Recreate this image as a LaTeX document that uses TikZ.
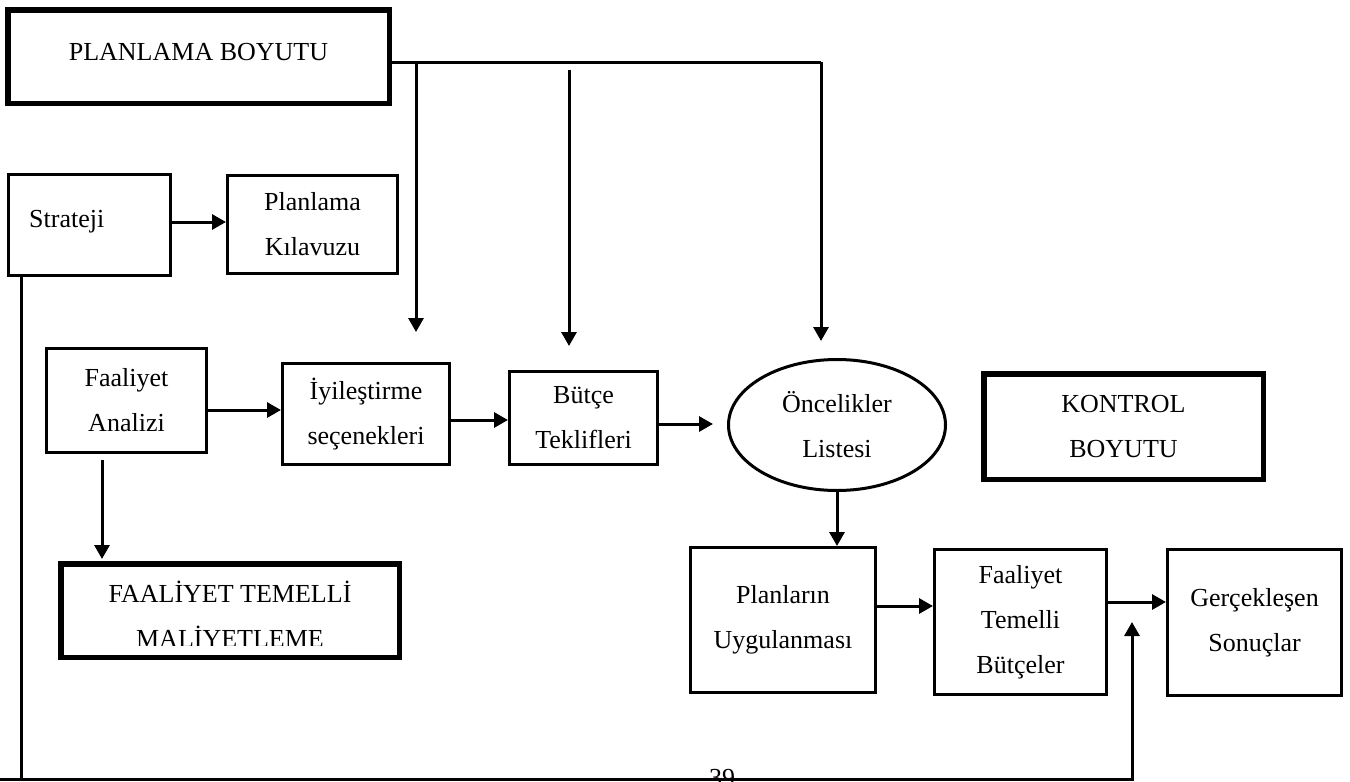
\documentclass[tikz,border=0pt]{standalone}
\usepackage{fontspec}
\setmainfont{Liberation Serif}
\usetikzlibrary{arrows.meta,calc,shapes.geometric}
\begin{document}
\begin{tikzpicture}[x=1pt,y=-1pt,
  every node/.style={font=\fontsize{26}{45}\selectfont, align=center, inner sep=0pt},
  thinbox/.style={draw, line width=3pt, rectangle},
  thickbox/.style={draw, line width=5.5pt, rectangle},
  oval/.style={draw, line width=3pt, ellipse},
  link/.style={line width=3pt},
  arr/.style={line width=3pt, -{Triangle[length=14pt,width=15pt]}}]
\useasboundingbox (0,0) rectangle (1350,782);
\clip (0,0) rectangle (1350,782);

% dimension boxes
\node[thickbox, minimum width=381.5pt, minimum height=93.5pt, text depth=10pt] (plan) at (198.5,56.5) {PLANLAMA BOYUTU};
\node[thickbox, minimum width=279.5pt, minimum height=105.5pt] (kontrol) at (1123.5,426.5) {KONTROL\\BOYUTU};
\node[thickbox, minimum width=338.5pt, minimum height=93.5pt] (ftm) at (230,610.5) {};
\begin{scope}
  \clip (60,560) rectangle (400,645);
  \node (ftmtxt) at (230,614) {FAAL\.IYET TEMELL\.I\\MAL\.IYETLEME};
\end{scope}

% planning steps
\node[thinbox, minimum width=162pt, minimum height=101pt] (strat) at (89.5,225) {};
\node[anchor=west] (strattxt) at (29,222) {Strateji};
\node[thinbox, minimum width=170pt, minimum height=98pt] (klv) at (312.5,224.5) {Planlama\\Kılavuzu};
\node[thinbox, minimum width=160pt, minimum height=104pt] (fa) at (126.5,400.5) {Faaliyet\\Analizi};
\node[thinbox, minimum width=167pt, minimum height=101pt] (iy) at (366,414) {\.Iyileştirme\\seçenekleri};
\node[thinbox, minimum width=148pt, minimum height=93pt] (bt) at (583.5,418) {Bütçe\\Teklifleri};
\node[oval, minimum width=217pt, minimum height=131pt] (onc) at (837,425) {Öncelikler\\Listesi};

% control steps
\node[thinbox, minimum width=185pt, minimum height=145pt] (pu) at (783,620) {Planların\\Uygulanması};
\node[thinbox, minimum width=172pt, minimum height=145pt] (ftb) at (1020.5,622) {Faaliyet\\Temelli\\Bütçeler};
\node[thinbox, minimum width=174pt, minimum height=146pt] (gs) at (1254.5,622.5) {Gerçekleşen\\Sonuçlar};

% page number
\node[anchor=base] (pg) at (722,786) {39};

% horizontal flow
\draw[arr] ($(strat.east)+(0,-3)$) -- ($(klv.west)+(0,-2.5)$);
\coordinate (t1) at ($(iy.west)+(0,-4)$);
\draw[arr] (fa.east |- t1) -- (t1);
\coordinate (t2) at ($(bt.west)+(0,2)$);
\draw[arr] (iy.east |- t2) -- (t2);
\coordinate (t3) at ($(onc.west)+(-14,-1)$);
\draw[arr] (bt.east |- t3) -- (t3);
\draw[arr] (onc.south) -- (onc.south |- pu.north);
\draw[arr] ($(pu.east)+(0,-14)$) -- ($(ftb.west)+(0,-16)$);
\draw[arr] ($(ftb.east)+(0,-20)$) -- ($(gs.west)+(0,-20.5)$);
\coordinate (s4) at ($(fa.south west)+(57,6)$);
\draw[arr, shorten >=2pt] (s4) -- (s4 |- ftm.north);

% planning dimension feeds
\coordinate (j0) at ($(plan.east)+(0,5.5)$);
\coordinate (j1) at (416,62);
\coordinate (j2) at (821,62);
\coordinate (b0) at (569,70);
\coordinate (t5) at ($(iy.north)+(50,-30)$);
\coordinate (t6) at ($(bt.north)+(-14.5,-24)$);
\coordinate (t7) at ($(onc.north)+(-16,-17)$);
\draw[link] (j0) -- (j2);
\draw[arr] (j1) -- (j1 |- t5);
\draw[arr] (b0) -- (b0 |- t6);
\draw[arr] (j2) -- (j2 |- t7);

% strategy feedback loop
\coordinate (c0) at (0,779);
\coordinate (c1) at (21,779);
\coordinate (c2) at (1132,779);
\coordinate (t8) at (1132,622);
\draw[link] (strat.south -| c1) -- (c1);
\draw[arr] (c0) -- (c2) -- (t8);
\end{tikzpicture}
\end{document}
